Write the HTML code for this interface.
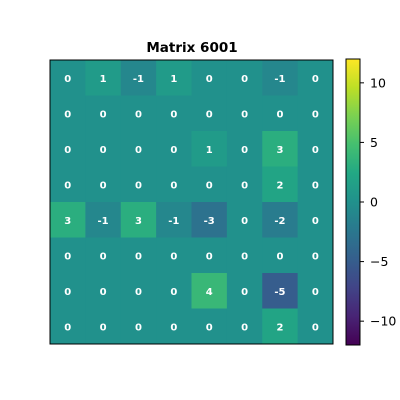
<!DOCTYPE html>
<html><head><meta charset="utf-8"><style>
body{margin:0;background:#fff;}
svg{display:block;font-family:"DejaVu Sans","Liberation Sans",sans-serif;}
</style></head><body>
<svg width="400" height="400" viewBox="0 0 400 400">
<rect width="400" height="400" fill="#fff"/>
<text x="192" y="52" text-anchor="middle" font-size="13.5" font-weight="bold">Matrix 6001</text>
<g id="cells"></g>
<rect x="50" y="60" width="283" height="284" fill="none" stroke="#000" stroke-width="1"/>
<defs><linearGradient id="cb" x1="0" y1="1" x2="0" y2="0"></linearGradient></defs>
<rect x="346" y="59" width="14" height="286" fill="url(#cb)" stroke="#000" stroke-width="1"/>
<g id="cbticks"></g>
</svg>
<script>
const values = [
 [0,1,-1,1,0,0,-1,0],
 [0,0,0,0,0,0,0,0],
 [0,0,0,0,1,0,3,0],
 [0,0,0,0,0,0,2,0],
 [3,-1,3,-1,-3,0,-2,0],
 [0,0,0,0,0,0,0,0],
 [0,0,0,0,4,0,-5,0],
 [0,0,0,0,0,0,2,0]
];
const vmin = -12, vmax = 12;
const cbTicks = [10,5,0,-5,-10];
const vir = ["#440154","#482475","#414487","#355f8d","#2a788e","#21918c","#22a884","#44bf70","#7ad151","#bddf26","#fde725"];
function hex(h){return [1,3,5].map(i=>parseInt(h.substr(i,2),16));}
function cmap(v){
  let t=(v-vmin)/(vmax-vmin); t=Math.max(0,Math.min(1,t));
  const f=t*10, i=Math.min(9,Math.floor(f)), r=f-i;
  const a=hex(vir[i]), b=hex(vir[i+1]);
  return "rgb("+a.map((c,k)=>Math.round(c+(b[k]-c)*r)).join(",")+")";
}
const NS="http://www.w3.org/2000/svg";
const x0=50,y0=60,W=283,H=284,n=8;
const cw=W/n, ch=H/n;
const g=document.getElementById("cells");
values.forEach((row,ri)=>row.forEach((v,ci)=>{
  const r=document.createElementNS(NS,"rect");
  r.setAttribute("x",x0+ci*cw);r.setAttribute("y",y0+ri*ch);
  r.setAttribute("width",cw+0.5);r.setAttribute("height",ch+0.5);
  r.setAttribute("fill",cmap(v));
  
  
  g.appendChild(r);
  const t=document.createElementNS(NS,"text");
  t.setAttribute("x",x0+(ci+0.5)*cw);t.setAttribute("y",y0+(ri+0.5)*ch+4);
  t.setAttribute("text-anchor","middle");t.setAttribute("font-size","10");
  t.setAttribute("font-weight","bold");t.setAttribute("fill","#fff");
  t.textContent=v;
  
  
  g.appendChild(t);
}));
const grad=document.getElementById("cb");
vir.forEach((c,i)=>{const s=document.createElementNS(NS,"stop");s.setAttribute("offset",i/10);s.setAttribute("stop-color",c);grad.appendChild(s);});
const cy0=59,cH=286;
function cbY(v){return cy0+cH*(vmax-v)/(vmax-vmin);}
const tg=document.getElementById("cbticks");
cbTicks.forEach(v=>{
  const y=cbY(v);
  const l=document.createElementNS(NS,"line");
  l.setAttribute("x1",360);l.setAttribute("x2",364);l.setAttribute("y1",y);l.setAttribute("y2",y);l.setAttribute("stroke","#000");
  
  
  tg.appendChild(l);
  const t=document.createElementNS(NS,"text");
  t.setAttribute("x",370);t.setAttribute("y",y+4.5);t.setAttribute("font-size","12.5");
  t.textContent=(v<0?"\u2212"+(-v):v);
  
  
  tg.appendChild(t);
});
</script>
</body></html>
